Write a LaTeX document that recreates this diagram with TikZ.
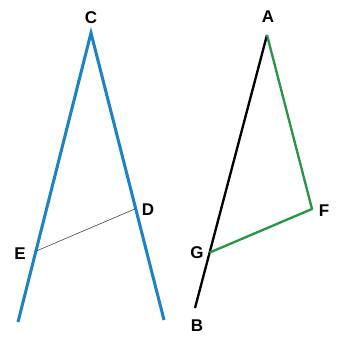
\documentclass[tikz,border=0pt]{standalone}
\usepackage{fontspec}
\setmainfont{Liberation Sans}
\usepackage{xcolor}
\usepackage{tikz}
\usetikzlibrary{calc}
\definecolor{legblue}{RGB}{30,130,200}
\definecolor{bracegreen}{RGB}{40,150,70}

\begin{document}
\begin{tikzpicture}[x=0.03cm, y=-0.03cm,
    lbl/.style={font=\fontsize{14.5}{16}\selectfont\bfseries, inner sep=0pt}]
    \useasboundingbox (0,0) rectangle (339,341);
    % Left figure: two legs meeting at C, cross bar E--D
    \coordinate (C) at (91,33);
    \coordinate (L) at (18,322);
    \coordinate (R) at (164,320);
    \coordinate (E) at ($(C)!0.755!(L)$);
    \coordinate (D) at ($(C)!0.612!(R)$);
    \draw[legblue, line width=2.6pt] (L) -- (C) -- (R);
    \draw[black!75, line width=0.5pt] (E) -- (D);
    \node[lbl] (labC) at (91,18) {C};
    \node[lbl] (labE) at (20,254) {E};
    \node[lbl] (labD) at (148,210) {D};
    % Right figure: line A--B with green triangle A--F--G
    \coordinate (A) at (267,35);
    \coordinate (B) at (195,308);
    \coordinate (F) at (312,209);
    \coordinate (G) at ($(A)!0.797!(B)$);
    \draw[black, line width=2pt] (A) -- (B);
    \draw[bracegreen, line width=2pt, line join=round] (A) -- (F) -- (G);
    \node[lbl] (labA) at (268,17) {A};
    \node[lbl] (labB) at (197,326) {B};
    \node[lbl] (labG) at (197,253) {G};
    \node[lbl] (labF) at (324,211) {F};
\end{tikzpicture}
\end{document}
